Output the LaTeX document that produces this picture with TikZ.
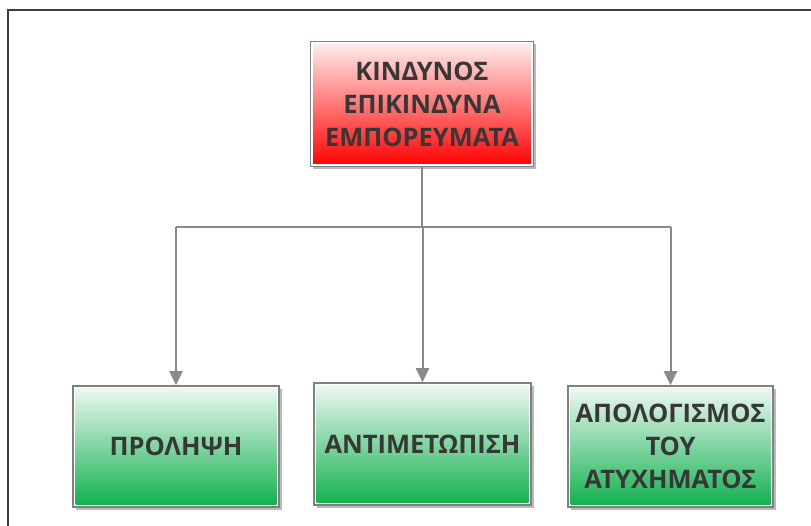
\documentclass[tikz,border=0pt]{standalone}
\usepackage{fontspec}
\setmainfont{Open Sans}
\usetikzlibrary{arrows.meta,shadows}
\definecolor{txt}{RGB}{55,55,55}
\definecolor{edge}{RGB}{128,128,128}
\definecolor{conn}{RGB}{138,138,138}
\definecolor{rtop}{RGB}{255,240,240}
\definecolor{rbot}{RGB}{255,0,0}
\definecolor{gtop}{RGB}{240,249,243}
\definecolor{gbot}{RGB}{16,176,78}
\definecolor{frame}{RGB}{60,60,60}
\tikzset{
  box/.style={draw=edge, line width=1.6pt, fill=white, inner sep=0pt,
    align=center, text=txt, font=\bfseries\fontsize{25.5}{33}\selectfont,
    drop shadow={shadow xshift=2.5pt, shadow yshift=-3pt, opacity=0.45, fill=black!60}},
  inset/.style 2 args={path picture={\shade[top color=#1, bottom color=#2]
    ([shift={(2.5pt,-2.5pt)}]path picture bounding box.north west) rectangle
    ([shift={(-2.5pt,2.5pt)}]path picture bounding box.south east);}},
  redbox/.style={box, inset={rtop}{rbot}},
  greenbox/.style={box, inset={gtop}{gbot}},
  line/.style={draw=conn, line width=2pt},
  arr/.style={line, -{Triangle[length=14pt,width=13pt]}, shorten >=0pt}
}
\begin{document}
\begin{tikzpicture}[x=1pt,y=-1pt]
\useasboundingbox (0,0) rectangle (811,526);
\draw[frame, line width=2.2pt] (8,530) -- (8,10) -- (815,10);
\node[redbox, minimum width=223pt, minimum height=125pt] (top) at (422,104)
  {ΚΙΝΔΥΝΟΣ\\ΕΠΙΚΙΝΔΥΝΑ\\ΕΜΠΟΡΕΥΜΑΤΑ};
\node[greenbox, minimum width=206pt, minimum height=121pt] (p1) at (176,446.5) {ΠΡΟΛΗΨΗ};
\node[greenbox, minimum width=217pt, minimum height=122pt] (p2) at (422.5,444) {ΑΝΤΙΜΕΤΩΠΙΣΗ};
\node[greenbox, minimum width=205pt, minimum height=121pt] (p3) at (670.5,446.5)
  {ΑΠΟΛΟΓΙΣΜΟΣ\\ΤΟΥ\\ΑΤΥΧΗΜΑΤΟΣ};
\coordinate (bus) at (0,227);
\draw[line] (top.south) -- (top.south |- bus);
\draw[line] (p1.north |- bus) -- (p3.north |- bus);
\draw[arr] (p1.north |- bus) -- (p1.north);
\draw[arr] (p2.north |- bus) -- (p2.north);
\draw[arr] (p3.north |- bus) -- (p3.north);
\end{tikzpicture}
\end{document}
